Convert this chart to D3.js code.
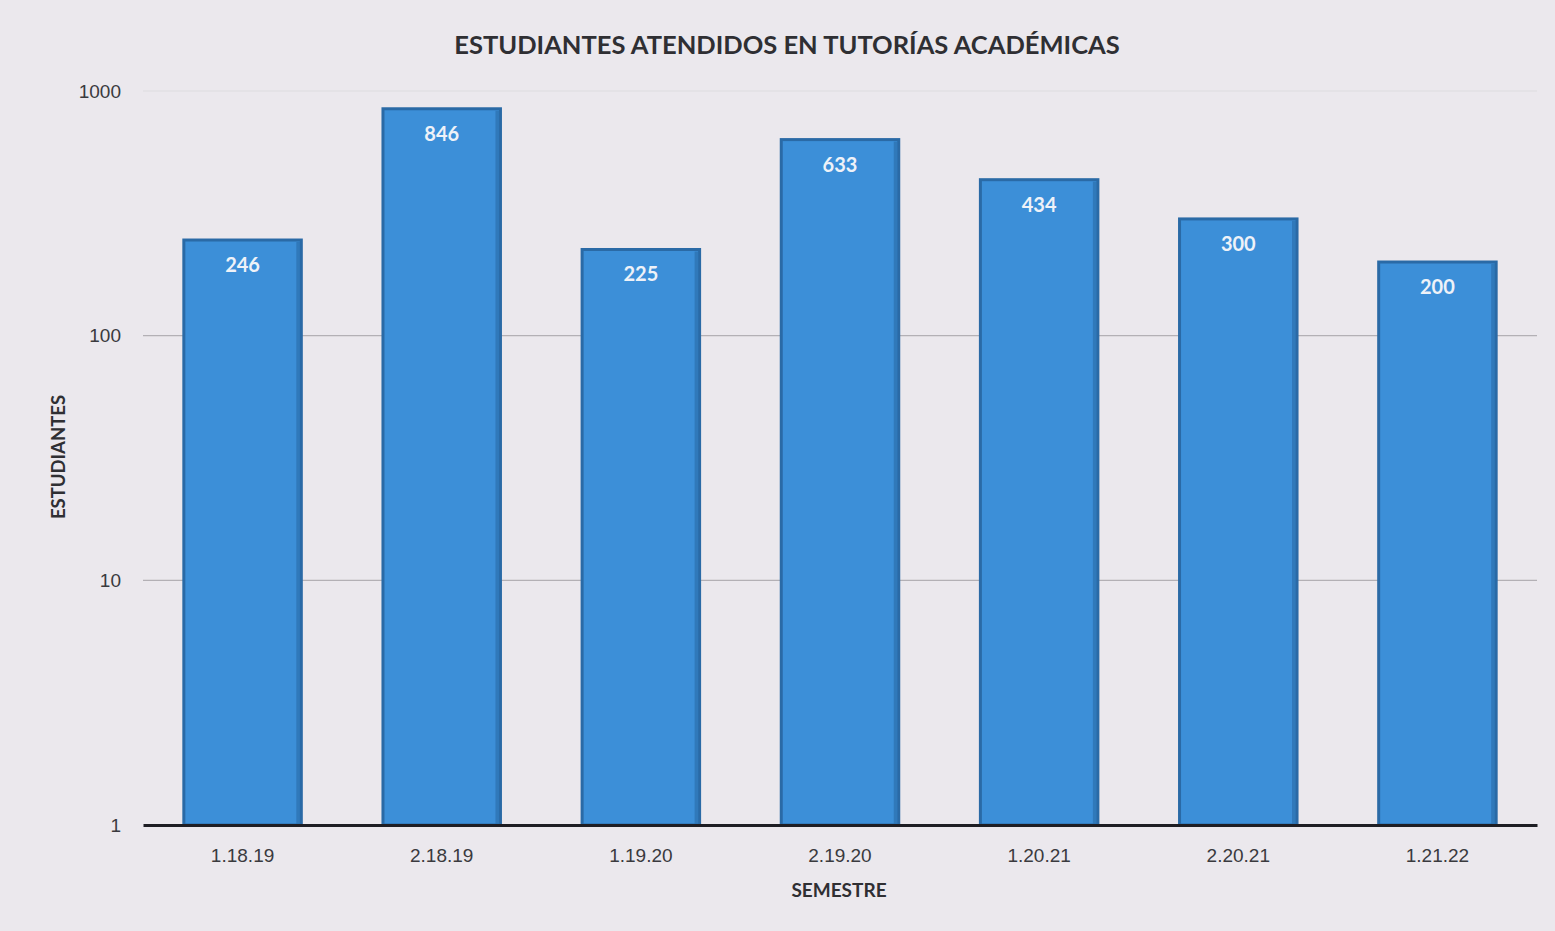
<!DOCTYPE html>
<html>
<head>
<meta charset="utf-8">
<script src="https://cdn.jsdelivr.net/npm/d3@7"></script>
<style>
  html, body { margin: 0; padding: 0; background: #ebe8ed; }
  svg { display: block; font-family: Lato, "Open Sans", sans-serif; }
</style>
</head>
<body>
<svg id="chart" width="1555" height="931"></svg>
<script>
// chart data
const semesters = ["1.18.19", "2.18.19", "1.19.20", "2.19.20", "1.20.21", "2.20.21", "1.21.22"];
const students = [246, 846, 225, 633, 434, 300, 200];
const yTicks = [1, 10, 100, 1000];

const svg = d3.select("#chart");
const margin = { top: 91, right: 18, bottom: 106, left: 143 };
const width = 1555, height = 931;
const innerWidth = width - margin.left - margin.right;
const innerHeight = height - margin.top - margin.bottom;

const ctr = svg.append("g").attr("transform", `translate(${margin.left},${margin.top})`);

const x = d3.scaleBand().domain(semesters).range([0, innerWidth]).paddingInner(0.41).paddingOuter(0.205);
const y = d3.scaleLog().domain([1, 1000]).range([innerHeight, 0]);

// gridlines
ctr.append("g")
  .selectAll("line")
  .data(yTicks.slice(1))
  .join("line")
  .attr("x1", 0)
  .attr("x2", innerWidth)
  .attr("y1", d => y(d))
  .attr("y2", d => y(d))
  .attr("stroke", d => d === 1000 ? "#dedbe0" : "#b3b0b5")
  .attr("stroke-width", 1.2);

// y axis labels
const yAxis = ctr.append("g")
  .call(d3.axisLeft(y).tickValues(yTicks).tickFormat(d3.format("d")).tickSize(0).tickPadding(22));
yAxis.select(".domain").remove();
yAxis.selectAll("text").attr("font-size", 19).attr("fill", "#3a3a3e");

// bars
const bars = ctr.append("g")
  .selectAll("g")
  .data(semesters.map((s, i) => ({ s, v: students[i] })))
  .join("g");

bars.append("rect")
  .attr("x", d => x(d.s))
  .attr("y", d => y(d.v))
  .attr("width", x.bandwidth())
  .attr("height", d => innerHeight - y(d.v))
  .attr("fill", "#3c8fd8")
  .attr("stroke", "#2a6aa6")
  .attr("stroke-width", 3);

// right-side shade on bars
bars.append("rect")
  .attr("x", d => x(d.s) + x.bandwidth() - 5)
  .attr("y", d => y(d.v) + 2)
  .attr("width", 4)
  .attr("height", d => innerHeight - y(d.v) - 3)
  .attr("fill", "#2b6fae")
  .attr("opacity", 0.7);

bars.append("text")
  .attr("x", d => x(d.s) + x.bandwidth() / 2)
  .attr("y", d => y(d.v) + 32)
  .attr("text-anchor", "middle")
  .attr("font-size", 20)
  .attr("font-weight", "bold")
  .attr("fill", "#eef2f8")
  .text(d => d.v);

// x axis
const xAxis = ctr.append("g")
  .attr("transform", `translate(0,${innerHeight})`)
  .call(d3.axisBottom(x).tickSize(0).tickPadding(24));
xAxis.select(".domain").attr("stroke", "#1e1e24").attr("stroke-width", 3);
xAxis.selectAll("text").attr("font-size", 19).attr("fill", "#3a3a3e");

// titles
svg.append("text")
  .attr("x", 787)
  .attr("y", 54)
  .attr("text-anchor", "middle")
  .attr("font-size", 25.5)
  .attr("font-weight", "bold")
  .attr("fill", "#2f2f33")
  .text("ESTUDIANTES ATENDIDOS EN TUTORÍAS ACADÉMICAS");

svg.append("text")
  .attr("x", 839)
  .attr("y", 897)
  .attr("text-anchor", "middle")
  .attr("font-size", 19)
  .attr("font-weight", "bold")
  .attr("fill", "#2f2f33")
  .text("SEMESTRE");

svg.append("text")
  .attr("transform", "translate(65,457) rotate(-90)")
  .attr("text-anchor", "middle")
  .attr("font-size", 18.5)
  .attr("font-weight", "bold")
  .attr("fill", "#2f2f33")
  .text("ESTUDIANTES");
</script>
</body>
</html>
